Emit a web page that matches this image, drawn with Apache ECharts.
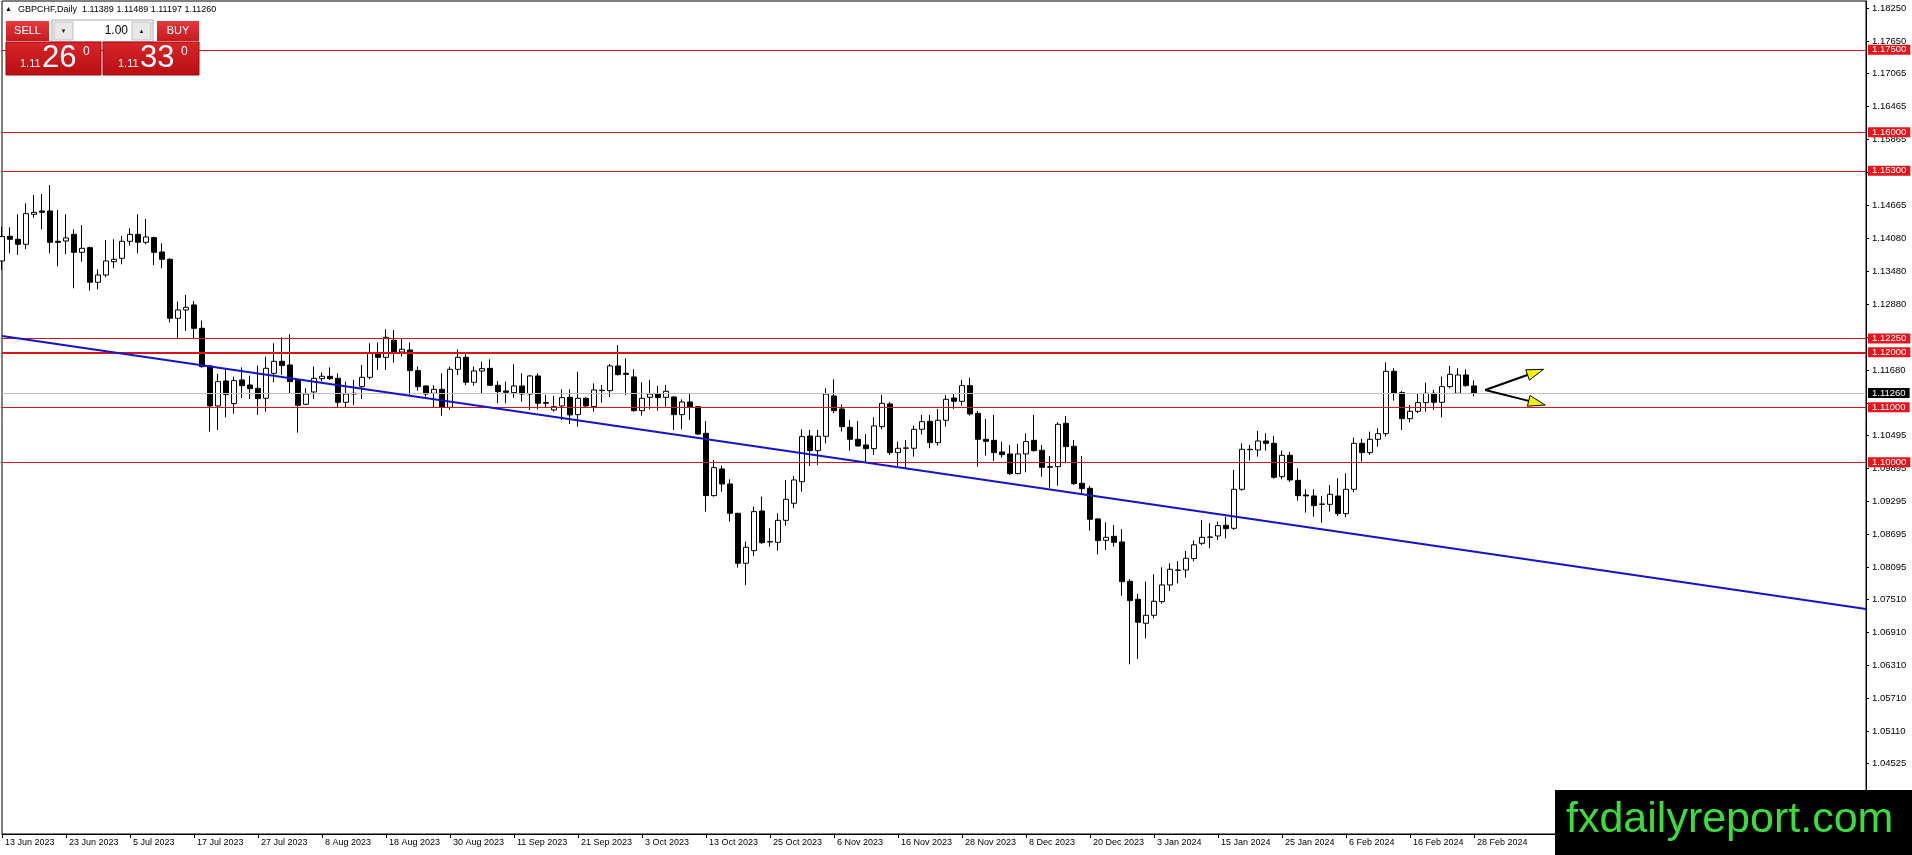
<!DOCTYPE html>
<html>
<head>
<meta charset="utf-8">
<script src="https://cdn.jsdelivr.net/npm/echarts@6.0.0/dist/echarts.min.js"></script>
<style>
html,body{margin:0;padding:0;background:#fff;}
#chart{width:1912px;height:855px;}
</style>
</head>
<body>
<div id="chart"></div>
<script>
// ---------------- DATA ----------------
const symbolTitle = 'GBPCHF,Daily';
const openP = [1.13661,1.14109,1.14055,1.13964,1.14509,1.14570,1.14570,1.14018,1.14024,1.14145,1.13818,1.13903,1.13273,1.13406,1.13648,1.13709,1.14018,1.14145,1.14000,1.14085,1.13824,1.13691,1.12618,1.12770,1.12861,1.12436,1.11752,1.11024,1.11479,1.11067,1.11497,1.11406,1.11345,1.11164,1.11618,1.11836,1.11770,1.11503,1.11055,1.11279,1.11521,1.11564,1.11527,1.11091,1.11242,1.11376,1.11545,1.11982,1.11909,1.12218,1.12006,1.12042,1.11667,1.11388,1.11255,1.11327,1.11000,1.11691,1.11909,1.11455,1.11661,1.11709,1.11400,1.11297,1.11267,1.11388,1.11242,1.11570,1.11085,1.10952,1.11024,1.11182,1.10867,1.11164,1.11012,1.11309,1.11303,1.11752,1.11618,1.11552,1.10939,1.11182,1.11242,1.11182,1.11188,1.10867,1.11097,1.11012,1.10527,1.09394,1.09879,1.09606,1.09073,1.08164,1.08394,1.09115,1.08552,1.08545,1.08945,1.09255,1.09648,1.10479,1.10212,1.10473,1.11206,1.10970,1.10636,1.10418,1.10315,1.10248,1.10648,1.11061,1.10176,1.10255,1.10255,1.10600,1.10745,1.10358,1.10764,1.11170,1.11109,1.11394,1.10891,1.10418,1.10400,1.10188,1.10152,1.09794,1.10152,1.10400,1.10218,1.09909,1.09921,1.10709,1.10291,1.09618,1.09527,1.08970,1.08582,1.08655,1.08552,1.07836,1.07509,1.07073,1.07218,1.07467,1.07770,1.08036,1.08042,1.08250,1.08527,1.08636,1.08661,1.08855,1.08800,1.09509,1.10236,1.10224,1.10388,1.10345,1.09739,1.10127,1.09673,1.09406,1.09388,1.09236,1.09236,1.09388,1.09067,1.09509,1.10345,1.10176,1.10418,1.10521,1.11655,1.11267,1.10794,1.10927,1.11085,1.11255,1.11091,1.11376,1.11255,1.11588,1.11389];
const closeP = [1.14103,1.14055,1.13964,1.14521,1.14545,1.14545,1.14000,1.14000,1.14079,1.13818,1.13891,1.13273,1.13406,1.13661,1.13691,1.14018,1.14145,1.14000,1.14097,1.13818,1.13691,1.12618,1.12770,1.12818,1.12436,1.11739,1.11024,1.11467,1.11236,1.11485,1.11394,1.11339,1.11158,1.11709,1.11836,1.11758,1.11467,1.11036,1.11242,1.11527,1.11564,1.11521,1.11091,1.11242,1.11255,1.11545,1.11982,1.11909,1.12273,1.12006,1.12055,1.11667,1.11376,1.11242,1.11327,1.11000,1.11691,1.11909,1.11455,1.11661,1.11703,1.11400,1.11285,1.11273,1.11388,1.11242,1.11570,1.11073,1.11073,1.11012,1.11176,1.10861,1.11164,1.11024,1.11315,1.11303,1.11752,1.11594,1.11600,1.10939,1.11164,1.11242,1.11176,1.11291,1.10867,1.11097,1.11000,1.10515,1.09394,1.09903,1.09606,1.09073,1.08164,1.08455,1.09103,1.08539,1.08558,1.08945,1.09327,1.09679,1.10467,1.10212,1.10473,1.11242,1.10939,1.10648,1.10418,1.10297,1.10248,1.10661,1.11073,1.10176,1.10255,1.10261,1.10600,1.10739,1.10358,1.10764,1.11145,1.11109,1.11394,1.10879,1.10418,1.10382,1.10176,1.10139,1.09794,1.10152,1.10376,1.10212,1.09909,1.09921,1.10691,1.10285,1.09612,1.09521,1.08964,1.08576,1.08636,1.08545,1.07830,1.07485,1.07091,1.07218,1.07473,1.07770,1.08055,1.08042,1.08255,1.08500,1.08636,1.08642,1.08848,1.08794,1.09509,1.10236,1.10230,1.10388,1.10345,1.09727,1.10127,1.09679,1.09394,1.09388,1.09212,1.09242,1.09418,1.09067,1.09509,1.10345,1.10176,1.10418,1.10521,1.11655,1.11255,1.10794,1.10927,1.11085,1.11255,1.11091,1.11376,1.11600,1.11588,1.11394,1.11260];
const highP = [1.14285,1.14273,1.14509,1.14709,1.14861,1.14879,1.15042,1.14588,1.14509,1.14236,1.14315,1.13921,1.13509,1.14042,1.14055,1.14115,1.14255,1.14509,1.14424,1.14103,1.13982,1.13709,1.12921,1.13042,1.12933,1.12576,1.11770,1.11606,1.11691,1.11558,1.11727,1.11576,1.11758,1.11921,1.12164,1.12273,1.12327,1.11520,1.11345,1.11739,1.11630,1.11727,1.11618,1.11467,1.11497,1.11770,1.12164,1.12176,1.12418,1.12406,1.12255,1.12176,1.11739,1.11400,1.11400,1.11618,1.11739,1.12055,1.11964,1.11739,1.11830,1.11873,1.11479,1.11467,1.11782,1.11618,1.11588,1.11618,1.11224,1.11206,1.11327,1.11327,1.11648,1.11182,1.11436,1.11406,1.11788,1.12133,1.11891,1.11691,1.11455,1.11497,1.11388,1.11406,1.11200,1.11145,1.11255,1.11020,1.10752,1.10042,1.09939,1.09691,1.09080,1.08558,1.09194,1.09376,1.08800,1.09073,1.09679,1.09752,1.10600,1.10588,1.10588,1.11345,1.11509,1.11055,1.10770,1.10752,1.10515,1.10818,1.11224,1.11097,1.10376,1.10406,1.10667,1.10861,1.10861,1.10970,1.11224,1.11255,1.11497,1.11539,1.10933,1.10788,1.10861,1.10376,1.10315,1.10333,1.10527,1.10861,1.10315,1.10115,1.10727,1.10842,1.10406,1.10115,1.09570,1.08980,1.08909,1.08861,1.08788,1.07873,1.07606,1.07830,1.07964,1.08091,1.08164,1.08206,1.08388,1.08580,1.08952,1.08891,1.08921,1.09012,1.09861,1.10345,1.10315,1.10570,1.10527,1.10479,1.10212,1.10188,1.09891,1.09509,1.09509,1.09388,1.09588,1.09709,1.09800,1.10448,1.10424,1.10558,1.10618,1.11818,1.11709,1.11297,1.11042,1.11255,1.11448,1.11315,1.11558,1.11752,1.11709,1.11691,1.11489];
const lowP = [1.13497,1.13800,1.13770,1.13879,1.14448,1.14236,1.13800,1.13564,1.13782,1.13164,1.13648,1.13121,1.13145,1.13364,1.13527,1.13600,1.13939,1.13800,1.13964,1.13588,1.13527,1.12545,1.12255,1.12388,1.12242,1.11721,1.10558,1.10588,1.10818,1.10885,1.11164,1.11152,1.10861,1.10921,1.11455,1.11588,1.11255,1.10539,1.11042,1.11152,1.11467,1.11497,1.11000,1.11000,1.11042,1.11152,1.11509,1.11679,1.11679,1.11812,1.11921,1.11206,1.11303,1.11194,1.11000,1.10848,1.10952,1.11588,1.11406,1.11394,1.11242,1.11388,1.11073,1.11073,1.11176,1.11103,1.10952,1.10964,1.11000,1.10921,1.10770,1.10697,1.10648,1.11000,1.10921,1.11085,1.11182,1.11580,1.11224,1.10921,1.10848,1.10964,1.10939,1.11012,1.10588,1.10600,1.10770,1.10497,1.09103,1.09376,1.09467,1.08921,1.08085,1.07770,1.08297,1.08515,1.08467,1.08394,1.08848,1.09164,1.09467,1.09933,1.09952,1.10345,1.10891,1.10558,1.10212,1.10285,1.09994,1.10133,1.10600,1.10133,1.09903,1.09903,1.10103,1.10509,1.10255,1.10303,1.10648,1.10970,1.11030,1.10848,1.09921,1.10121,1.10024,1.10085,1.09770,1.09782,1.09818,1.10194,1.09739,1.09539,1.09576,1.09982,1.09588,1.09436,1.08758,1.08327,1.08406,1.08467,1.07576,1.06327,1.06424,1.06800,1.07164,1.07430,1.07661,1.07800,1.07903,1.08200,1.08497,1.08436,1.08588,1.08618,1.08770,1.09485,1.10030,1.10103,1.10212,1.09703,1.09691,1.09642,1.09303,1.09085,1.09012,1.08903,1.09103,1.09024,1.09000,1.09455,1.10012,1.10133,1.10285,1.10467,1.11121,1.10588,1.10727,1.10891,1.10921,1.10952,1.10818,1.11345,1.11255,1.11376,1.11197];

// labels every 8 bars on the time scale
const xLabels = ['13 Jun 2023','23 Jun 2023','5 Jul 2023','17 Jul 2023','27 Jul 2023','8 Aug 2023','18 Aug 2023','30 Aug 2023','11 Sep 2023','21 Sep 2023','3 Oct 2023','13 Oct 2023','25 Oct 2023','6 Nov 2023','16 Nov 2023','28 Nov 2023','8 Dec 2023','20 Dec 2023','3 Jan 2024','15 Jan 2024','25 Jan 2024','6 Feb 2024','16 Feb 2024','28 Feb 2024'];
const labelStep = 8;
const futureBars = 49;

// price scale ticks
const yTickLabels = [1.18250,1.17650,1.17065,1.16465,1.15865,1.14665,1.14080,1.13480,1.12880,1.11680,1.10495,1.09895,1.09295,1.08695,1.08095,1.07510,1.06910,1.06310,1.05710,1.05110,1.04525];
const yTickMarks = [1.18250,1.17650,1.17065,1.16465,1.15865,1.15265,1.14665,1.14080,1.13480,1.12880,1.12280,1.11680,1.11080,1.10495,1.09895,1.09295,1.08695,1.08095,1.07510,1.06910,1.06310,1.05710,1.05110,1.04525];
const yMin = 1.032418;
const yMax = 1.183873;

// horizontal levels
const redLevels = [1.17500, 1.16000, 1.15300, 1.12250, 1.11000, 1.10000];
const boldLevel = [1.12000];
const bidLevel = [1.11260];

// trend line (bar index, price)
const trendLine = [[0, 1.12296], [233, 1.07333]];

// arrows (bar index, price)
const arrows = [
  {x0: 185.4, y0: 1.11315, x1: 192.7, y1: 1.11691},
  {x0: 185.4, y0: 1.11315, x1: 192.9, y1: 1.11042}
];

// one-click panel prices
const sellQuote = {big: '26', small: '1.11', pip: '0'};
const buyQuote = {big: '33', small: '1.11', pip: '0'};
const lotSize = '1.00';

// ---------------- BUILD ----------------
const nBars = openP.length;
const categories = [];
for (let i = 0; i < nBars + futureBars; i++) categories.push(String(i));
const candleData = openP.map((o, i) => [o, closeP[i], lowP[i], highP[i]]);

const FONT = 'Liberation Sans, Arial, sans-serif';
const RED_LINE = '#d01818';
const RED_BOX = '#e8141c';

function levelLine(v, color, width, boxColor) {
  return {
    yAxis: v,
    lineStyle: {color: color, width: width, type: 'solid'},
    label: {
      show: true, position: 'end', distance: 2,
      formatter: v.toFixed(5),
      color: '#fff', backgroundColor: boxColor,
      fontFamily: FONT, fontSize: 9.5, lineHeight: 10,
      padding: [0, 4, 0, 4]
    }
  };
}

const markData = []
  .concat(bidLevel.map(v => levelLine(v, '#c0c0c0', 1, '#000000')))
  .concat(redLevels.map(v => levelLine(v, RED_LINE, 1, RED_BOX)))
  .concat(boldLevel.map(v => levelLine(v, RED_LINE, 2, RED_BOX)));

const lastIdx = nBars - 1;
const headerText = symbolTitle + '  ' + [openP[lastIdx], highP[lastIdx], lowP[lastIdx], closeP[lastIdx]].map(v => v.toFixed(5)).join(' ');

function redGrad(top, bottom) {
  return new echarts.graphic.LinearGradient(0, 0, 0, 1, [{offset: 0, color: top}, {offset: 1, color: bottom}]);
}

const graphics = [
  {type: 'text', left: 5, top: 6, style: {text: '▲', fontSize: 7, fill: '#000', fontFamily: FONT}, z: 100},
  {type: 'text', left: 18, top: 5, style: {text: headerText, fontSize: 9, fill: '#000', fontFamily: FONT}, z: 100},
  // SELL button
  {type: 'rect', shape: {x: 6, y: 21, width: 43, height: 20}, style: {fill: redGrad('#e8393c', '#c41b1f')}, z: 100},
  {type: 'text', x: 27.5, y: 31, style: {text: 'SELL', fill: '#fff', fontSize: 11, fontFamily: FONT, align: 'center', verticalAlign: 'middle'}, z: 101},
  // spinner
  {type: 'rect', shape: {x: 52, y: 20, width: 101, height: 22}, style: {fill: '#fff', stroke: '#a8a8a8', lineWidth: 1}, z: 100},
  {type: 'rect', shape: {x: 54, y: 22, width: 19, height: 18}, style: {fill: '#e8e8e8', stroke: '#c0c0c0', lineWidth: 1}, z: 101},
  {type: 'text', x: 63.5, y: 31, style: {text: '▼', fill: '#222', fontSize: 6, align: 'center', verticalAlign: 'middle'}, z: 102},
  {type: 'text', x: 128, y: 31, style: {text: lotSize, fill: '#000', fontSize: 12, fontFamily: FONT, align: 'right', verticalAlign: 'middle'}, z: 101},
  {type: 'rect', shape: {x: 132, y: 22, width: 19, height: 18}, style: {fill: '#e8e8e8', stroke: '#c0c0c0', lineWidth: 1}, z: 101},
  {type: 'text', x: 141.5, y: 31, style: {text: '▲', fill: '#222', fontSize: 6, align: 'center', verticalAlign: 'middle'}, z: 102},
  // BUY button
  {type: 'rect', shape: {x: 157, y: 21, width: 42, height: 20}, style: {fill: redGrad('#e8393c', '#c41b1f')}, z: 100},
  {type: 'text', x: 178, y: 31, style: {text: 'BUY', fill: '#fff', fontSize: 11, fontFamily: FONT, align: 'center', verticalAlign: 'middle'}, z: 101},
  // price boxes
  {type: 'rect', shape: {x: 6, y: 42, width: 95, height: 33}, style: {fill: redGrad('#d9262a', '#b80d12'), stroke: '#9e0a0e', lineWidth: 1}, z: 100},
  {type: 'rect', shape: {x: 103, y: 42, width: 96, height: 33}, style: {fill: redGrad('#d9262a', '#b80d12'), stroke: '#9e0a0e', lineWidth: 1}, z: 100},
  {type: 'text', x: 20, y: 64, style: {text: sellQuote.small, fill: '#fff', fontSize: 11, fontFamily: FONT, verticalAlign: 'middle'}, z: 101},
  {type: 'text', x: 42, y: 58.5, style: {text: sellQuote.big, fill: '#fff', fontSize: 31, fontFamily: FONT, verticalAlign: 'middle'}, z: 101},
  {type: 'text', x: 83, y: 52, style: {text: sellQuote.pip, fill: '#fff', fontSize: 12, fontFamily: FONT, verticalAlign: 'middle'}, z: 101},
  {type: 'text', x: 118, y: 64, style: {text: buyQuote.small, fill: '#fff', fontSize: 11, fontFamily: FONT, verticalAlign: 'middle'}, z: 101},
  {type: 'text', x: 140, y: 58.5, style: {text: buyQuote.big, fill: '#fff', fontSize: 31, fontFamily: FONT, verticalAlign: 'middle'}, z: 101},
  {type: 'text', x: 181, y: 52, style: {text: buyQuote.pip, fill: '#fff', fontSize: 12, fontFamily: FONT, verticalAlign: 'middle'}, z: 101},
  // watermark
  {type: 'rect', shape: {x: 1555, y: 790, width: 357, height: 65}, style: {fill: '#000'}, z: 100},
  {type: 'text', x: 1566, y: 820, style: {text: 'fxdailyreport.com', fill: '#3ddc3d', fontSize: 43, fontFamily: FONT, verticalAlign: 'middle'}, z: 101}
];

const chart = echarts.init(document.getElementById('chart'), null, {renderer: 'canvas'});
chart.setOption({
  animation: false,
  backgroundColor: '#ffffff',
  grid: {left: 2, right: 46, top: 1, bottom: 21, show: true, borderColor: '#000', borderWidth: 1, backgroundColor: '#fff', containLabel: false, outerBoundsMode: 'none'},
  tooltip: {show: false},
  xAxis: {
    type: 'category',
    data: categories,
    boundaryGap: false,
    axisLine: {show: true, lineStyle: {color: '#000', width: 1}},
    axisTick: {show: true, length: 4, lineStyle: {color: '#000'}, interval: (i) => i % labelStep === 0 && i / labelStep < xLabels.length},
    axisLabel: {
      show: true,
      interval: (i) => i % labelStep === 0 && i / labelStep < xLabels.length,
      formatter: (v, i) => (i % labelStep === 0 && xLabels[i / labelStep]) ? xLabels[i / labelStep] : '',
      align: 'left', padding: [0, 0, 0, 3],
      color: '#000', fontSize: 9, fontFamily: FONT, margin: 4, hideOverlap: false
    },
    splitLine: {show: false}
  },
  yAxis: {
    type: 'value',
    position: 'right',
    min: yMin, max: yMax, scale: true,
    axisLine: {show: true, lineStyle: {color: '#000', width: 1}},
    axisTick: {show: true, length: 3, customValues: yTickMarks, lineStyle: {color: '#000'}},
    axisLabel: {show: true, customValues: yTickLabels, formatter: (v) => Number(v).toFixed(5), color: '#000', fontSize: 9.5, fontFamily: FONT, margin: 6, hideOverlap: false},
    splitLine: {show: false}
  },
  series: [
    {
      type: 'line', data: [], clip: false, silent: true, z: 3,
      markLine: {silent: true, precision: 5, symbol: ['none', 'none'], animation: false, data: markData}
    },
    {
      type: 'candlestick',
      data: candleData,
      barWidth: 5,
      z: 4,
      silent: true,
      itemStyle: {color: '#ffffff', color0: '#000000', borderColor: '#000000', borderColor0: '#000000', borderColorDoji: '#000000', borderWidth: 1},
      emphasis: {disabled: true}
    },
    {
      type: 'line', data: trendLine, symbol: 'none', silent: true, z: 5, clip: true,
      lineStyle: {color: '#1414c8', width: 2}
    },
    {
      type: 'custom', silent: true, z: 6, clip: false,
      data: arrows.map(a => [a.x0, a.y0]),
      renderItem: function (params, api) {
        const a = arrows[params.dataIndex];
        const toPx = (idx, price) => {
          const i0 = Math.floor(idx);
          const p0 = api.coord([i0, price]);
          const p1 = api.coord([i0 + 1, price]);
          return [p0[0] + (idx - i0) * (p1[0] - p0[0]), p0[1]];
        };
        const s = toPx(a.x0, a.y0), e = toPx(a.x1, a.y1);
        const dx = e[0] - s[0], dy = e[1] - s[1];
        const L = Math.sqrt(dx * dx + dy * dy);
        const ux = dx / L, uy = dy / L, nx = -uy, ny = ux;
        const hl = 17, hw = 5.5;
        const b = [e[0] - ux * hl, e[1] - uy * hl];
        return {
          type: 'group',
          children: [
            {type: 'line', shape: {x1: s[0], y1: s[1], x2: b[0] + ux * 2, y2: b[1] + uy * 2}, style: {stroke: '#000', lineWidth: 2}},
            {type: 'polygon', shape: {points: [e, [b[0] + nx * hw, b[1] + ny * hw], [b[0] - nx * hw, b[1] - ny * hw]]}, style: {fill: '#f2f200', stroke: '#000', lineWidth: 1}}
          ]
        };
      }
    }
  ],
  graphic: graphics
});
</script>
</body>
</html>
